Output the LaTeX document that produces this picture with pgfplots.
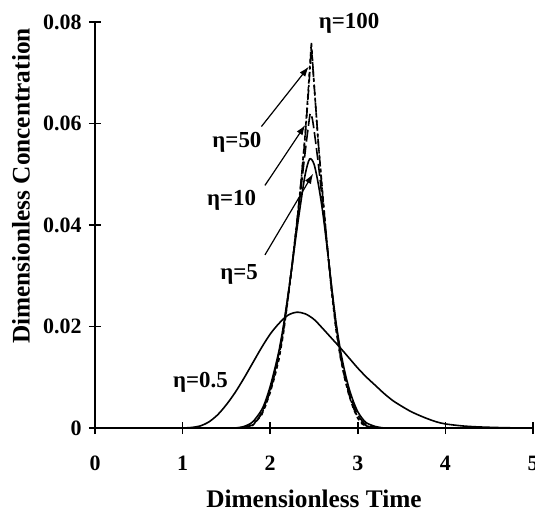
\documentclass[border=0pt]{standalone}
\usepackage{fontspec}
\setmainfont{Liberation Serif}
\usepackage{pgfplots}
\pgfplotsset{compat=1.18}
\usetikzlibrary{arrows.meta}
\begin{document}
\begin{tikzpicture}
\begin{axis}[
  scale only axis,
  width=219bp, height=203bp,
  xmin=0, xmax=5, ymin=0, ymax=0.08,
  axis x line=bottom, axis y line=left,
  axis line style={-, line width=0.8bp},
  clip=false,
  scaled y ticks=false, scaled x ticks=false,
  xtick={0,1,2,3,4,5},
  ytick={0,0.02,0.04,0.06,0.08},
  yticklabels={0,0.02,0.04,0.06,0.08},
  xticklabels={0,1,2,3,4,5},
  tick align=center,
  major tick length=6bp,
  tick style={line width=0.8bp, black},
  ticklabel style={font=\fontsize{11}{13}\selectfont\bfseries},
  xticklabel style={anchor=base, inner sep=0pt, yshift=-18bp},
  yticklabel style={anchor=east, inner sep=0pt, xshift=-3.5bp},
  xlabel={Dimensionless Time},
  ylabel={Dimensionless Concentration},
  label style={font=\fontsize{12.7}{15}\selectfont\bfseries, inner sep=0pt},
  xlabel style={at={(rel axis cs:0.5,-0.1955)}, anchor=base},
  ylabel style={at={(rel axis cs:-0.1475,0.596)}, anchor=south},
  /pgf/number format/assume math mode=true,
]
\coordinate (O) at (axis cs:0,0);
% eta = 0.5
\addplot[black, line width=0.8bp, smooth] coordinates {
(1.00,0) (1.10,0.0001) (1.20,0.0004) (1.30,0.0012) (1.40,0.0026) (1.50,0.0046)
(1.60,0.0070) (1.70,0.0098) (1.80,0.0128) (1.90,0.0158) (2.00,0.0185) (2.10,0.0206)
(2.20,0.0222) (2.30,0.0228) (2.40,0.0225) (2.50,0.0214) (2.60,0.0196) (2.70,0.0177)
(2.80,0.0158) (2.90,0.0138) (3.00,0.0118) (3.10,0.0100) (3.20,0.0084) (3.30,0.0068)
(3.40,0.0054) (3.50,0.0043) (3.60,0.0033) (3.70,0.0025) (3.80,0.0018) (3.90,0.0012)
(4.00,0.0008) (4.20,0.0004) (4.40,0.0002) (4.70,0.00005) (5.00,0)
};
% eta = 5
\addplot[black, line width=0.8bp, smooth] coordinates {
(1.60,0) (1.70,0.0003) (1.80,0.0012) (1.90,0.0035) (1.95,0.0055) (2.00,0.0082)
(2.05,0.0115) (2.10,0.0152) (2.15,0.0200) (2.20,0.0258) (2.25,0.0320) (2.30,0.0385)
(2.35,0.0445) (2.40,0.0500) (2.45,0.0530) (2.50,0.0520) (2.55,0.0480) (2.60,0.0425)
(2.65,0.0355) (2.70,0.0280) (2.75,0.0210) (2.80,0.0155) (2.85,0.0112) (2.90,0.0078)
(2.95,0.0052) (3.00,0.0032) (3.05,0.0019) (3.10,0.0010) (3.20,0.0003) (3.30,0)
};
% eta = 10
\addplot[black, line width=0.8bp, smooth, dash pattern=on 6bp off 2bp] coordinates {
(1.65,0) (1.75,0.0003) (1.85,0.0015) (1.90,0.0030) (1.95,0.0050) (2.00,0.0077)
(2.05,0.0110) (2.10,0.0148) (2.15,0.0196) (2.20,0.0255) (2.25,0.0322) (2.30,0.0395)
(2.35,0.0470) (2.40,0.0545) (2.44,0.0600) (2.46,0.0620) (2.49,0.0600) (2.55,0.0520)
(2.60,0.0440) (2.65,0.0360) (2.70,0.0278) (2.75,0.0205) (2.80,0.0148) (2.85,0.0105)
(2.90,0.0070) (2.95,0.0045) (3.00,0.0026) (3.05,0.0014) (3.10,0.0006) (3.20,0.0001) (3.25,0)
};
% eta = 50
\addplot[black, line width=0.8bp, dash pattern=on 5bp off 1.5bp on 1bp off 1.5bp] coordinates {
(1.70,0) (1.80,0.0006) (1.90,0.0027) (1.95,0.0047) (2.00,0.0073) (2.05,0.0105)
(2.10,0.0142) (2.15,0.0190) (2.20,0.0252) (2.25,0.0322) (2.30,0.0398) (2.35,0.0482)
(2.40,0.0575) (2.44,0.0670) (2.47,0.0750) (2.50,0.0680) (2.55,0.0560) (2.60,0.0455)
(2.65,0.0360) (2.70,0.0275) (2.75,0.0200) (2.80,0.0143) (2.85,0.0100) (2.90,0.0066)
(2.95,0.0040) (3.00,0.0021) (3.05,0.0010) (3.10,0.0004) (3.20,0)
};
% eta = 100
\addplot[black, line width=0.8bp, dash pattern=on 2bp off 1.5bp] coordinates {
(1.72,0) (1.80,0.0005) (1.90,0.0025) (1.95,0.0045) (2.00,0.0070) (2.05,0.0100)
(2.10,0.0135) (2.15,0.0185) (2.20,0.0250) (2.25,0.0320) (2.30,0.0395) (2.35,0.0480)
(2.40,0.0580) (2.44,0.0680) (2.47,0.0760) (2.50,0.0680) (2.55,0.0560) (2.60,0.0460)
(2.65,0.0360) (2.70,0.0270) (2.75,0.0195) (2.80,0.0140) (2.85,0.0098) (2.90,0.0064)
(2.95,0.0038) (3.00,0.0019) (3.05,0.0008) (3.10,0.0003) (3.18,0)
};
% labels
\begin{scope}[every node/.style={font=\fontsize{11.5}{13}\selectfont\bfseries, inner sep=0pt, anchor=base west}]
\node at (axis cs:2.55,0.0788) {η=100};
\node at (axis cs:1.336,0.0552) {η=50};
\node at (axis cs:1.275,0.0438) {η=10};
\node at (axis cs:1.427,0.0293) {η=5};
\node at (axis cs:0.887,0.00806) {η=0.5};
\end{scope}
\draw[-{Latex[length=5bp,width=3.5bp]}, line width=0.6bp] (axis cs:1.90,0.0594) -- (axis cs:2.44,0.0712);
\draw[-{Latex[length=5bp,width=3.5bp]}, line width=0.6bp] (axis cs:1.94,0.0478) -- (axis cs:2.40,0.0597);
\draw[-{Latex[length=5bp,width=3.5bp]}, line width=0.6bp] (axis cs:1.94,0.0341) -- (axis cs:2.49,0.0501);
\end{axis}
\pgfresetboundingbox
\path[use as bounding box] ([shift={(-47.5bp,-42bp)}]O) rectangle ([shift={(220bp,214bp)}]O);
\end{tikzpicture}
\end{document}
